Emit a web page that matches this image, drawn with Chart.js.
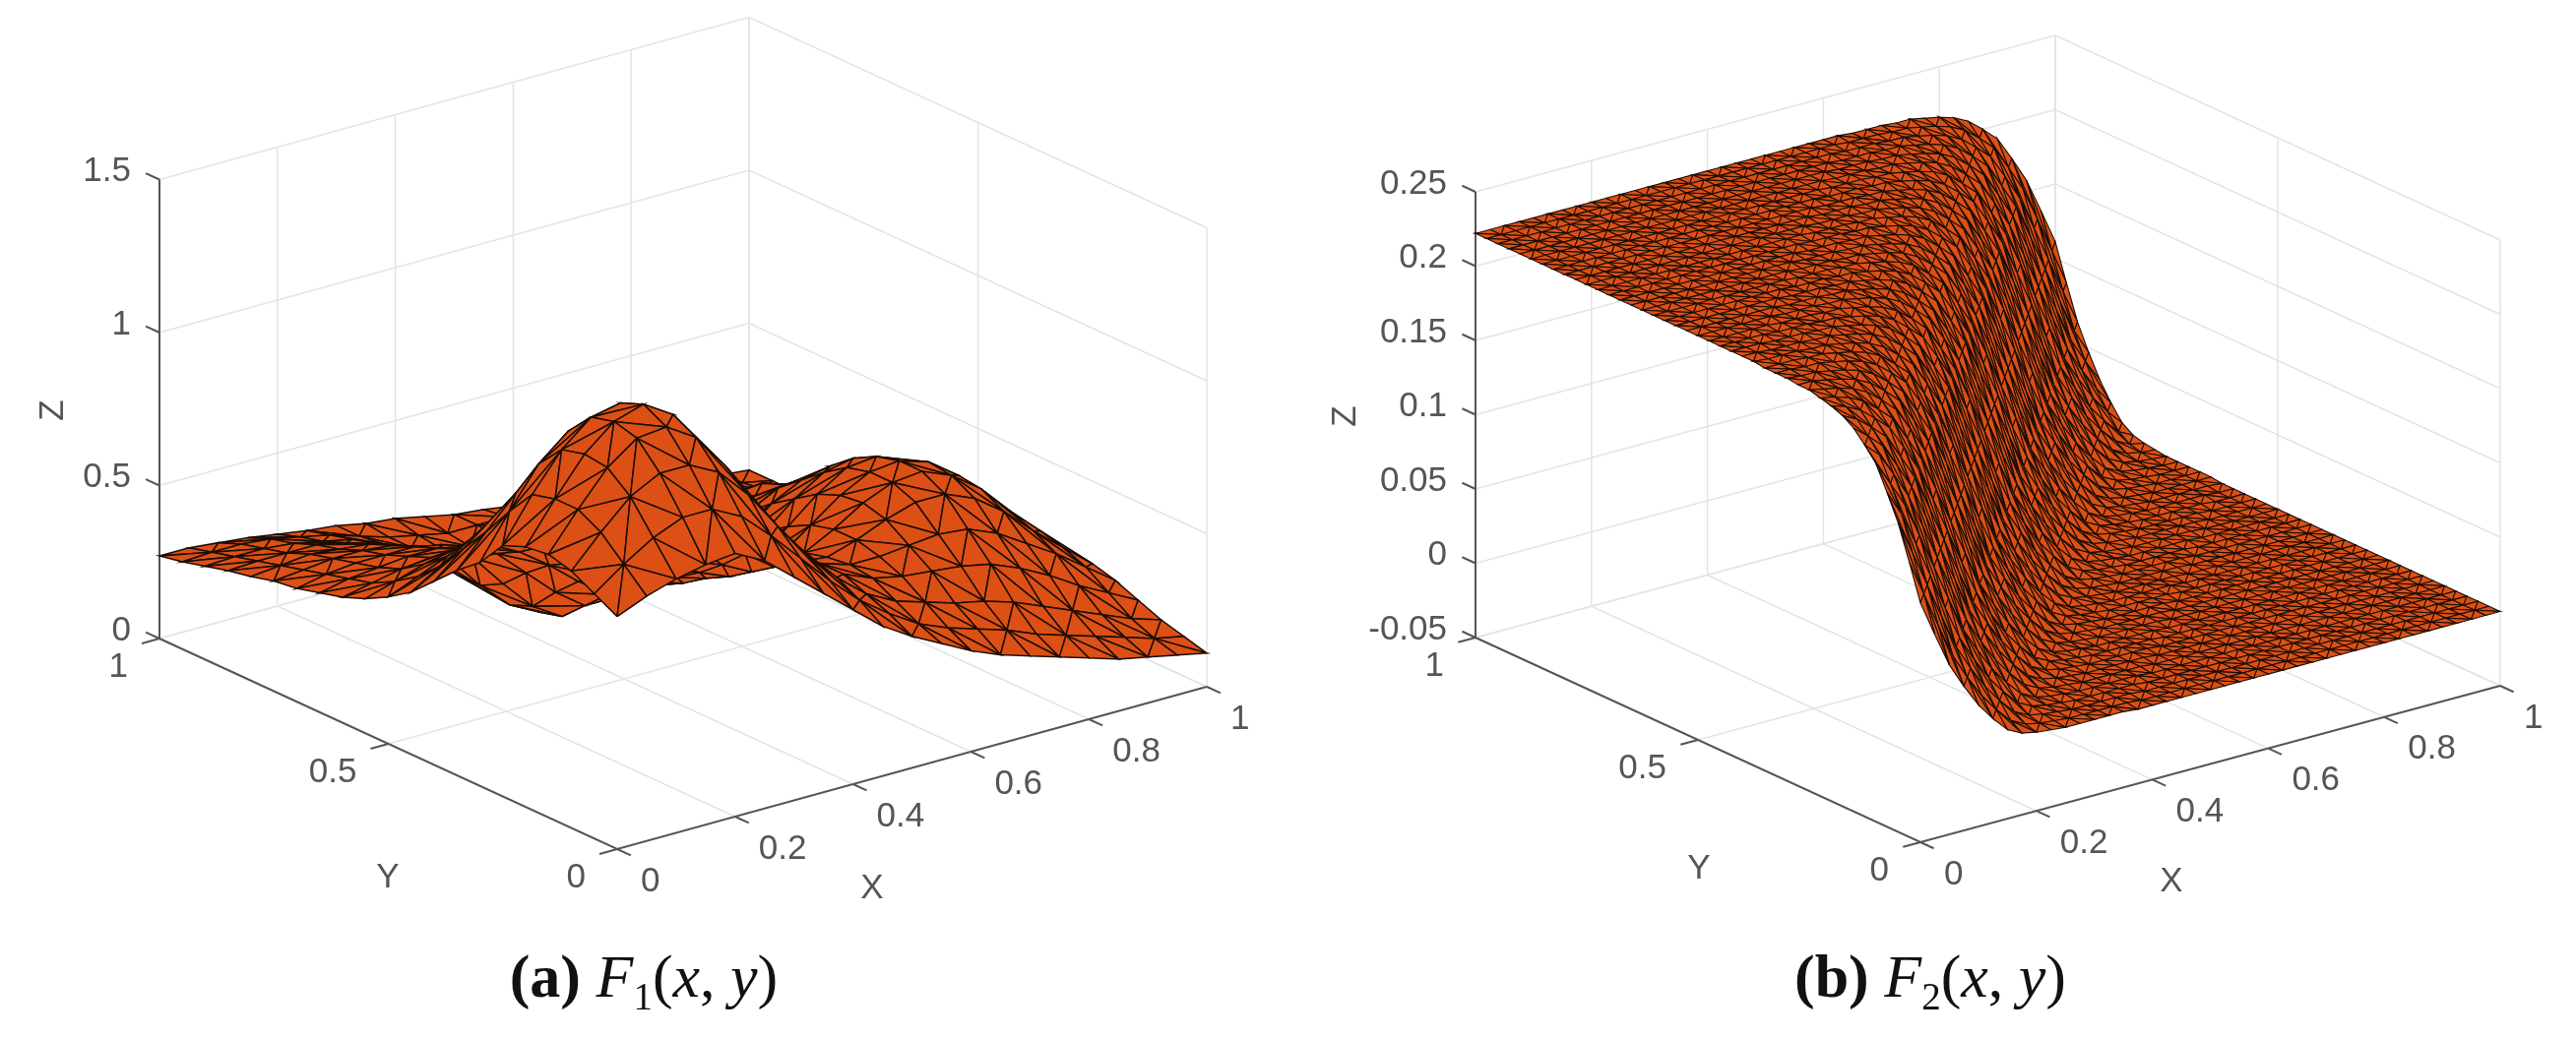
<!DOCTYPE html>
<html>
<head>
<meta charset="utf-8">
<title>F1 and F2 surfaces</title>
<script src="https://cdn.jsdelivr.net/npm/chart.js@4"></script>
<style>
  html, body { margin: 0; background: #fff; }
  canvas { position: absolute; top: 0; filter: blur(0.6px); }
  .caption { position: absolute; top: 957px; width: 600px; text-align: center; font: 62px "Liberation Serif", serif; color: #111; white-space: nowrap; }
  .caption i { font-style: italic; }
  .caption sub { font-size: 39px; }
</style>
</head>
<body>
<canvas id="chartA" width="1308" height="1055" style="left:0"></canvas>
<canvas id="chartB" width="1309" height="1055" style="left:1308px"></canvas>
<div class="caption" style="left:354px"><b>(a)</b> <i>F</i><sub>1</sub>(<i>x</i>, <i>y</i>)</div>
<div class="caption" style="left:1661px"><b>(b)</b> <i>F</i><sub>2</sub>(<i>x</i>, <i>y</i>)</div>
<script>
// Axis ticks
const xTicks = [0, 0.2, 0.4, 0.6, 0.8, 1];
const yTicks = [0, 0.5, 1];
const zTicksA = [0, 0.5, 1, 1.5];
const zTicksB = [-0.05, 0, 0.05, 0.1, 0.15, 0.2, 0.25];

// Left surface: heights, rows run y = 0..1, columns x = 0..1, step 0.05
const surfaceA = [
  [.76,.80,.83,.85,.86,.81,.73,.65,.57,.49,.43,.38,.33,.29,.26,.23,.20,.17,.15,.13,.11],
  [.80,.87,.93,.97,.97,.92,.83,.73,.63,.54,.47,.41,.37,.34,.31,.27,.24,.21,.18,.15,.13],
  [.84,.94,1.03,1.08,1.08,1.03,.93,.80,.68,.58,.50,.45,.42,.39,.37,.34,.30,.26,.22,.18,.15],
  [.86,.98,1.09,1.16,1.17,1.11,.99,.85,.71,.60,.53,.49,.47,.46,.45,.43,.39,.34,.28,.23,.18],
  [.85,.98,1.10,1.18,1.21,1.15,1.02,.86,.71,.60,.53,.50,.50,.51,.52,.51,.47,.41,.35,.28,.21],
  [.82,.96,1.08,1.16,1.18,1.12,.99,.83,.68,.57,.50,.49,.52,.56,.59,.59,.55,.48,.39,.31,.23],
  [.73,.87,1.00,1.08,1.10,1.04,.91,.76,.62,.52,.45,.47,.52,.58,.62,.63,.59,.52,.42,.33,.24],
  [.67,.77,.87,.94,.96,.91,.80,.66,.54,.45,.40,.43,.50,.57,.62,.63,.60,.53,.43,.33,.23],
  [.60,.68,.75,.80,.81,.78,.68,.56,.46,.39,.35,.38,.46,.54,.60,.61,.57,.50,.40,.31,.22],
  [.53,.59,.65,.68,.68,.65,.58,.48,.39,.34,.31,.34,.41,.49,.55,.57,.53,.46,.36,.28,.19],
  [.48,.52,.56,.59,.59,.56,.50,.42,.34,.29,.26,.29,.36,.44,.49,.51,.47,.40,.32,.24,.16],
  [.44,.47,.50,.52,.52,.50,.45,.37,.30,.24,.22,.25,.31,.38,.43,.44,.41,.34,.27,.19,.13],
  [.41,.43,.45,.46,.46,.45,.40,.33,.25,.18,.17,.20,.26,.33,.37,.38,.35,.29,.22,.15,.10],
  [.39,.41,.42,.43,.43,.41,.36,.27,.18,.11,.11,.17,.24,.30,.34,.35,.32,.26,.20,.13,.08],
  [.37,.39,.40,.40,.40,.38,.31,.20,.10,.04,.06,.13,.20,.26,.29,.29,.27,.22,.16,.10,.06],
  [.36,.37,.38,.38,.37,.34,.27,.16,.07,.02,.05,.12,.18,.23,.25,.25,.22,.18,.13,.08,.05],
  [.34,.35,.36,.35,.34,.31,.25,.16,.08,.05,.08,.13,.17,.20,.21,.21,.19,.15,.11,.07,.04],
  [.325,.33,.33,.33,.31,.28,.23,.17,.12,.10,.11,.13,.16,.18,.18,.18,.16,.13,.09,.06,.03],
  [.305,.31,.31,.30,.28,.26,.22,.18,.15,.13,.13,.14,.15,.16,.16,.15,.13,.11,.08,.05,.02],
  [.285,.29,.29,.28,.26,.24,.21,.18,.16,.14,.14,.14,.14,.14,.14,.13,.11,.09,.07,.04,.02],
  [.27,.27,.26,.25,.235,.22,.21,.19,.18,.16,.14,.13,.115,.11,.10,.09,.08,.07,.05,.03,.02]
];

// Right surface is a straight ridge: height against (y - x), from -1 to 1, step 1/40
const ridgeB = [
  0,0,0,0,0,0,0,0,0,0,0,0,0,0,0,0,0,0,0,0,0,0,0,0,0,0,
  .001,.001,.001,.001,.001,.002,.003,.005,.010,.020,.032,.047,.064,.087,
  .111,
  .135,.158,.175,.191,.200,.208,.213,.216,.218,.220,.220,.221,.221,.221,
  .222,.222,.222,.222,.222,.222,.222,.222,.222,.222,.222,.222,.222,
  .222,.222,.222,.222,.222,.222,.222,.222,.222,.222,.222,.222,.222
];

const FACE = '#dc5016';
const GRID = '#e4e4e4';
const AXIS = '#555555';
const TEXT = '#555555';
const LABEL_FONT = '35px "Liberation Sans", Arial, sans-serif';

// Maps (x, y, z) of the 3D box to the flat chart scale
function makeProjector(box) {
  return (x, y, z) => ({
    x: box.front[0] + x * box.xVec[0] + y * box.yVec[0],
    y: box.front[1] + x * box.xVec[1] + y * box.yVec[1] - (z - box.zMin) * box.zScale
  });
}

function lineSet(points, color, width) {
  return { data: points, showLine: true, fill: false, borderColor: color, borderWidth: width, pointRadius: 0 };
}

function triangleSet(a, b, c, lineWidth) {
  return {
    data: [a, b, c, a], showLine: true, fill: 'shape', backgroundColor: FACE,
    borderColor: '#1c0d06', borderWidth: lineWidth, pointRadius: 0
  };
}

// Front cells come first, Chart.js paints index 0 last
function surfaceSets(rows, project, lineWidth) {
  const sets = [];
  const n = rows.length - 1;
  for (let j = 0; j < n; j++) {
    for (let i = 0; i < n; i++) {
      const p = (a, b) => project(a / n, b / n, rows[b][a]);
      const p00 = p(i, j), p10 = p(i + 1, j), p01 = p(i, j + 1), p11 = p(i + 1, j + 1);
      // mix the diagonals so the mesh does not read as a plain lattice
      if ((i * 7 + j * j * 3) % 5 < 2) {
        sets.push(triangleSet(p00, p10, p11, lineWidth), triangleSet(p00, p11, p01, lineWidth));
      } else {
        sets.push(triangleSet(p00, p10, p01, lineWidth), triangleSet(p10, p11, p01, lineWidth));
      }
    }
  }
  return sets;
}

function frameSets(box, project, zTicks) {
  const sets = [];
  const zMin = box.zMin, zMax = zTicks[zTicks.length - 1];
  // axes go first so the grid stays under them
  sets.push(lineSet([project(0, 1, zMax), project(0, 1, zMin), project(0, 0, zMin), project(1, 0, zMin)], AXIS, 2));
  xTicks.forEach(x => sets.push(lineSet([project(x, 0, zMin), project(x, -0.03, zMin)], AXIS, 2)));
  yTicks.forEach(y => sets.push(lineSet([project(0, y, zMin), project(-0.03, y, zMin)], AXIS, 2)));
  zTicks.forEach(z => sets.push(lineSet([project(0, 1, z), project(0, 1.03, z)], AXIS, 2)));
  // back walls and floor
  zTicks.forEach(z => {
    sets.push(lineSet([project(0, 1, z), project(1, 1, z), project(1, 0, z)], GRID, 1.5));
  });
  xTicks.forEach(x => {
    sets.push(lineSet([project(x, 0, zMin), project(x, 1, zMin), project(x, 1, zMax)], GRID, 1.5));
  });
  yTicks.forEach(y => {
    sets.push(lineSet([project(0, y, zMin), project(1, y, zMin), project(1, y, zMax)], GRID, 1.5));
  });
  return sets;
}

// Tick labels and axis titles
function labelsPlugin(box, project, zTicks, titles) {
  return {
    id: 'axisLabels',
    afterDraw(chart) {
      const ctx = chart.ctx;
      const sx = chart.scales.x, sy = chart.scales.y;
      const put = (text, pt, dx, dy, align) => {
        ctx.textAlign = align;
        ctx.fillText(text, sx.getPixelForValue(pt.x) + dx, sy.getPixelForValue(pt.y) + dy);
      };
      ctx.save();
      ctx.font = LABEL_FONT;
      ctx.fillStyle = TEXT;
      ctx.textBaseline = 'middle';
      xTicks.forEach(x => put(String(x), project(x, 0, box.zMin), 24, 33, 'left'));
      yTicks.forEach(y => put(String(y), project(0, y, box.zMin), -32, 29, 'right'));
      zTicks.forEach(z => put(String(z), project(0, 1, z), -29, -8, 'right'));
      ctx.textAlign = 'center';
      ctx.fillText('X', titles.x[0], titles.x[1]);
      ctx.fillText('Y', titles.y[0], titles.y[1]);
      ctx.translate(titles.z[0], titles.z[1]);
      ctx.rotate(-Math.PI / 2);
      ctx.fillText('Z', 0, 0);
      ctx.restore();
    }
  };
}

function buildChart(canvasId, rows, box, zTicks, titles, lineWidth) {
  const canvas = document.getElementById(canvasId);
  const project = makeProjector(box);
  return new Chart(canvas, {
    type: 'scatter',
    data: { datasets: surfaceSets(rows, project, lineWidth).concat(frameSets(box, project, zTicks)) },
    options: {
      responsive: false,
      animation: false,
      events: [],
      devicePixelRatio: 1,
      layout: { padding: 0 },
      plugins: { legend: { display: false }, tooltip: { enabled: false } },
      scales: {
        x: { type: 'linear', display: false, min: 0, max: canvas.width },
        y: { type: 'linear', display: false, min: 0, max: canvas.height, reverse: true }
      }
    },
    plugins: [labelsPlugin(box, project, zTicks, titles)]
  });
}

const boxA = { front: [627, 863], xVec: [599, -165], yVec: [-465, -214], zMin: 0, zScale: 311 };
const boxB = { front: [643, 856], xVec: [589, -159], yVec: [-452, -208], zMin: -0.05, zScale: 1510 };

// grid for the right surface, looked up from the ridge profile
const surfaceB = [];
for (let j = 0; j <= 40; j++) {
  const row = [];
  for (let i = 0; i <= 40; i++) row.push(ridgeB[j - i + 40]);
  surfaceB.push(row);
}

buildChart('chartA', surfaceA, boxA, zTicksA, { x: [886, 903], y: [394, 892], z: [54, 417] }, 1.5);
buildChart('chartB', surfaceB, boxB, zTicksB, { x: [898, 896], y: [418, 883], z: [59, 423] }, 1.1);
</script>
</body>
</html>
